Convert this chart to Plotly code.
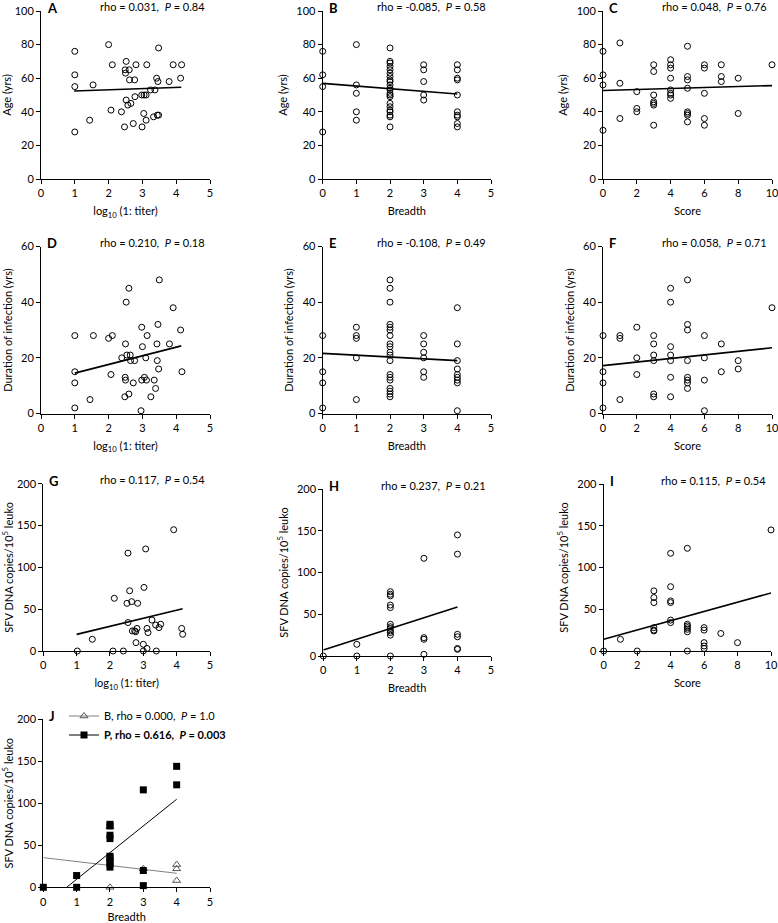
import plotly.graph_objects as go

W, H = 778, 923

# ---------------- data ----------------
A_titer = [1.0, 1.0, 1.0, 1.0, 1.44, 1.54, 2.0, 2.11, 2.07, 2.38, 2.47, 2.52, 2.49, 2.50, 2.61, 2.52, 2.57,
           2.66, 2.62, 2.77, 2.73, 2.78, 2.81, 2.99, 2.98, 3.05, 3.04, 3.11, 3.13, 3.11, 3.24, 3.33, 3.37,
           3.42, 3.44, 3.46, 3.48, 3.48, 3.79, 3.91, 4.13, 4.16]
A_age = [76, 62, 55, 28, 35, 56, 80, 68, 41, 40, 31, 70, 65, 63, 65, 47, 44,
         45, 59, 59, 33, 49, 68, 31, 50, 50, 39, 35, 68, 50, 53, 37, 53,
         60, 38, 58, 38, 78, 58, 68, 60, 68]

B_breadth = [0, 0, 0, 0,
             1, 1, 1, 1, 1,
             2, 2, 2, 2, 2, 2, 2, 2, 2, 2, 2, 2, 2, 2, 2, 2, 2, 2, 2, 2, 2, 2,
             3, 3, 3, 3, 3,
             4, 4, 4, 4, 4, 4, 4, 4, 4, 4]
B_age = [76, 62, 55, 28,
         80, 56, 51, 40, 35,
         78, 70, 69, 67, 65, 63, 61, 59, 58, 56, 54, 53, 51, 50, 49, 45, 43, 41, 40, 38, 37, 31,
         68, 65, 58, 50, 47,
         68, 65, 60, 59, 50, 40, 38, 37, 33, 31]

C_score = [0, 0, 0, 0, 1, 1, 1, 2, 2, 2, 3, 3, 3, 3, 3, 3, 3,
           4, 4, 4, 4, 4, 4, 4, 4, 5, 5, 5, 5, 5, 5, 5, 5,
           6, 6, 6, 6, 6, 7, 7, 7, 8, 8, 10]
C_age = [76, 62, 56, 29, 81, 57, 36, 52, 42, 40, 68, 64, 50, 46, 45, 44, 32,
         71, 68, 66, 60, 53, 51, 50, 48, 79, 61, 59, 54, 40, 39, 38, 34,
         68, 66, 51, 36, 32, 68, 61, 58, 60, 39, 68]

D_titer = [1.0, 1.0, 1.0, 1.0, 1.45, 1.55, 2.0, 2.11, 2.07, 2.39, 2.48, 2.5, 2.52, 2.49, 2.5, 2.6, 2.54,
           2.6, 2.64, 2.65, 2.73, 2.77, 2.98, 3.0, 2.98, 2.96, 3.06, 3.1, 3.12, 3.14, 3.25, 3.35, 3.39,
           3.43, 3.44, 3.46, 3.48, 3.5, 3.8, 3.91, 4.13, 4.17]
D_dur = [28, 15, 11, 2, 5, 28, 27, 28, 14, 20, 6, 25, 40, 13, 12, 45, 21,
         7, 21, 19, 11, 19, 31, 24, 12, 1, 13, 20, 12, 28, 6, 12, 9,
         25, 19, 32, 16, 48, 25, 38, 30, 15]

E_breadth = [0, 0, 0, 0,
             1, 1, 1, 1, 1,
             2, 2, 2, 2, 2, 2, 2, 2, 2, 2, 2, 2, 2, 2, 2, 2, 2, 2, 2,
             3, 3, 3, 3, 3, 3,
             4, 4, 4, 4, 4, 4, 4, 4, 4]
E_dur = [28, 15, 11, 2,
         31, 28, 27, 20, 5,
         48, 45, 40, 32, 31, 30, 28, 25, 24, 22, 21, 19, 14, 13, 12, 9, 8, 7, 6,
         28, 25, 22, 20, 15, 13,
         38, 25, 19, 16, 14, 13, 12, 11, 1]

F_score = [0, 0, 0, 0, 1, 1, 1, 2, 2, 2, 3, 3, 3, 3, 3, 3,
           4, 4, 4, 4, 4, 4, 4, 5, 5, 5, 5, 5, 5, 5, 5,
           6, 6, 6, 6, 7, 7, 8, 8, 10]
F_dur = [28, 15, 11, 2, 28, 27, 5, 31, 20, 14, 28, 25, 21, 19, 7, 6,
         45, 40, 24, 21, 19, 13, 6, 48, 32, 30, 19, 13, 12, 11, 9,
         28, 20, 12, 1, 25, 15, 19, 16, 38]

G_titer = [1.02, 1.47, 2.09, 2.13, 2.4, 2.51, 2.54, 2.54, 2.59, 2.65, 2.67, 2.74, 2.81, 2.77, 2.78, 2.83,
           3.0, 3.0, 3.02, 3.07, 3.11, 3.14, 3.11, 3.26, 3.37, 3.39, 3.47, 3.52, 3.91, 4.15, 4.18]
G_sfv = [0, 14, 0, 63, 0, 57, 117, 34, 72, 59, 24, 24, 27, 23, 10, 57,
         8, 0, 76, 122, 27, 22, 3, 37, 31, 0, 28, 32, 145, 27, 20]

H_breadth = [0, 1, 1, 2, 2, 2, 2, 2, 2, 2, 2, 2, 2, 2, 2, 3, 3, 3, 3, 4, 4, 4, 4, 4, 4]
H_sfv = [0, 14, 0, 77, 74, 72, 61, 58, 38, 35, 33, 30, 28, 25, 0, 117, 22, 20, 2, 145, 122, 26, 23, 9, 8]

I_score = [0, 1, 2, 3, 3, 3, 3, 3, 3, 4, 4, 4, 4, 4, 4, 5, 5, 5, 5, 5, 5, 5, 6, 6, 6, 6, 6, 7, 8, 10]
I_sfv = [0, 14, 0, 72, 64, 58, 28, 25, 24, 117, 77, 60, 58, 37, 34, 123, 32, 30, 28, 26, 23, 0,
         28, 25, 10, 6, 3, 21, 10, 145]

J_B_breadth = [2, 2, 3, 4, 4, 4]
J_B_sfv = [0, 72, 22, 27, 22, 8]
J_P_breadth = [0, 1, 1, 2, 2, 2, 2, 2, 2, 2, 2, 2, 3, 3, 3, 4, 4]
J_P_sfv = [0, 14, 0, 75, 73, 62, 58, 37, 35, 31, 28, 24, 116, 20, 2, 144, 122]

# regression lines (endpoints)
fit_A = ([0.98, 4.15], [52.4, 54.6])
fit_B = ([0, 4], [56.9, 50.6])
fit_C = ([0, 10], [52.7, 55.6])
fit_D = ([1.0, 4.15], [14.5, 24.3])
fit_E = ([0, 4], [21.6, 19.0])
fit_F = ([0, 10], [17.2, 23.6])
fit_G = ([1.0, 4.18], [19.9, 50.6])
fit_H = ([0, 4], [7.2, 58.8])
fit_I = ([0, 10], [14.0, 69.5])
fit_J_B = ([0, 4], [35.3, 16.7])
fit_J_P = ([0.7, 4], [0, 104.8])

stats = {
    "A": "rho = 0.031,  <i>P</i> = 0.84",
    "B": "rho = -0.085,  <i>P</i> = 0.58",
    "C": "rho = 0.048,  <i>P</i> = 0.76",
    "D": "rho = 0.210,  <i>P</i> = 0.18",
    "E": "rho = -0.108,  <i>P</i> = 0.49",
    "F": "rho = 0.058,  <i>P</i> = 0.71",
    "G": "rho = 0.117,  <i>P</i> = 0.54",
    "H": "rho = 0.237,  <i>P</i> = 0.21",
    "I": "rho = 0.115,  <i>P</i> = 0.54",
}
legend_B = "B, rho = 0.000,  <i>P</i> = 1.0"
legend_P = "<b>P, rho = 0.616,  <i>P</i> = 0.003</b>"

x_titer = "log<sub>10</sub> (1: titer)"
x_breadth = "Breadth"
x_score = "Score"
y_age = "Age (yrs)"
y_dur = "Duration of infection (yrs)"
y_sfv = "SFV DNA copies/10<sup>5</sup> leuko"

# ---------------- layout helpers ----------------
FONT = "Lato, 'Open Sans', sans-serif"

def dxp(a, b):
    return [a / W, min(1.0, b / W)]

def dyp(top, bottom):
    return [1 - bottom / H, 1 - top / H]

# panel: key, x, y, fit, xmax, xdtick, ymax, ydtick, xtitle, ytitle, (x0px, x1px, ytop, ybottom)
panels = [
    ("A", A_titer, A_age, fit_A, 5, 1, 100, 20, x_titer, y_age, (41, 210, 11, 179)),
    ("B", B_breadth, B_age, fit_B, 5, 1, 100, 20, x_breadth, y_age, (322.7, 491, 11, 179)),
    ("C", C_score, C_age, fit_C, 10, 2, 100, 20, x_score, y_age, (603, 772, 11, 179)),
    ("D", D_titer, D_dur, fit_D, 5, 1, 60, 20, x_titer, y_dur, (41, 210, 246.5, 413.5)),
    ("E", E_breadth, E_dur, fit_E, 5, 1, 60, 20, x_breadth, y_dur, (322.7, 491, 246.5, 413.5)),
    ("F", F_score, F_dur, fit_F, 10, 2, 60, 20, x_score, y_dur, (603, 772, 246.5, 413.5)),
    ("G", G_titer, G_sfv, fit_G, 5, 1, 200, 50, x_titer, y_sfv, (43.3, 210, 483.7, 651)),
    ("H", H_breadth, H_sfv, fit_H, 5, 1, 200, 50, x_breadth, y_sfv, (323.3, 491, 489, 656)),
    ("I", I_score, I_sfv, fit_I, 10, 2, 200, 50, x_score, y_sfv, (603.7, 771, 484, 651)),
    ("J", None, None, None, 5, 1, 200, 50, x_breadth, y_sfv, (43.3, 210, 719.3, 887.3)),
]

fig = go.Figure()
layout = dict(
    width=W, height=H, margin=dict(l=0, r=0, t=0, b=0, autoexpand=False),
    paper_bgcolor="white", plot_bgcolor="white",
    font=dict(family=FONT, size=11, color="black"),
    showlegend=True,
    annotations=[],
)

def axis_common():
    return dict(showgrid=False, zeroline=False, showline=True, linecolor="black", linewidth=1,
                ticks="outside", ticklen=4, tickwidth=1, tickcolor="black", automargin=False,
                ticklabeloverflow="allow",
                tickfont=dict(family=FONT, size=11, color="black"), fixedrange=True)

for i, (key, xs, ys, fit, xmax, xdt, ymax, ydt, xt, yt, box) in enumerate(panels):
    n = "" if i == 0 else str(i + 1)
    xa, ya = "x" + n, "y" + n
    x0, x1, yt0, yb0 = box
    layout["xaxis" + n] = dict(axis_common(), domain=dxp(x0, x1), anchor=ya, range=[0, xmax],
                               tick0=0, dtick=xdt,
                               title=dict(text=xt, font=dict(family=FONT, size=11), standoff=9))
    layout["yaxis" + n] = dict(axis_common(), domain=dyp(yt0, yb0), anchor=xa, range=[0, ymax],
                               tick0=0, dtick=ydt,
                               title=dict(text=yt, font=dict(family=FONT, size=11), standoff=6))
    # panel letter
    layout["annotations"].append(dict(
        text="<b>" + key + "</b>", xref=xa + " domain", yref=ya + " domain", x=0, y=1,
        xanchor="left", yanchor="middle", xshift=4, yshift=3, showarrow=False,
        font=dict(family=FONT, size=13, color="black")))
    if key in stats:
        layout["annotations"].append(dict(
            text=stats[key], xref=xa + " domain", yref=ya + " domain", x=1, y=1,
            xanchor="right", yanchor="middle", xshift=-3, yshift=4, showarrow=False,
            font=dict(family=FONT, size=11, color="black")))
        fig.add_trace(go.Scatter(x=xs, y=ys, mode="markers", xaxis=xa, yaxis=ya,
                                 marker=dict(symbol="circle-open", size=6, color="black",
                                             line=dict(width=1, color="black")),
                                 cliponaxis=False, showlegend=False, hoverinfo="skip"))
        fig.add_trace(go.Scatter(x=fit[0], y=fit[1], mode="lines", xaxis=xa, yaxis=ya,
                                 line=dict(color="black", width=1.6),
                                 cliponaxis=False, showlegend=False, hoverinfo="skip"))
    else:
        # panel J
        fig.add_trace(go.Scatter(x=fit_J_B[0], y=fit_J_B[1], mode="lines", xaxis=xa, yaxis=ya,
                                 line=dict(color="#808080", width=1), showlegend=False,
                                 cliponaxis=False, hoverinfo="skip"))
        fig.add_trace(go.Scatter(x=fit_J_P[0], y=fit_J_P[1], mode="lines", xaxis=xa, yaxis=ya,
                                 line=dict(color="black", width=1), showlegend=False,
                                 cliponaxis=False, hoverinfo="skip"))
        fig.add_trace(go.Scatter(x=J_B_breadth, y=J_B_sfv, mode="markers", xaxis=xa, yaxis=ya,
                                 marker=dict(symbol="triangle-up-open", size=7, color="#555555",
                                             line=dict(width=1, color="#555555")),
                                 showlegend=False, cliponaxis=False, hoverinfo="skip"))
        fig.add_trace(go.Scatter(x=J_P_breadth, y=J_P_sfv, mode="markers", xaxis=xa, yaxis=ya,
                                 marker=dict(symbol="square", size=7, color="black"),
                                 showlegend=False, cliponaxis=False, hoverinfo="skip"))
        # legend entries
        fig.add_trace(go.Scatter(x=[None], y=[None], mode="lines+markers", xaxis=xa, yaxis=ya,
                                 name=legend_B, legend="legend",
                                 line=dict(color="#808080", width=1),
                                 marker=dict(symbol="triangle-up-open", size=7, color="#555555",
                                             line=dict(width=1, color="#555555"))))
        fig.add_trace(go.Scatter(x=[None], y=[None], mode="lines+markers", xaxis=xa, yaxis=ya,
                                 name=legend_P, legend="legend2",
                                 line=dict(color="black", width=1),
                                 marker=dict(symbol="square", size=7, color="black")))

def legend_at(ycenter_px):
    return dict(x=64 / W, y=1 - ycenter_px / H, xanchor="left", yanchor="middle",
                bgcolor="rgba(0,0,0,0)", font=dict(family=FONT, size=11, color="black"),
                itemwidth=30, tracegroupgap=0, itemclick=False, itemdoubleclick=False)

layout["legend"] = legend_at(716)
layout["legend2"] = legend_at(735)

fig.update_layout(**layout)
fig.write_html("out.html",
               config={"displayModeBar": False, "staticPlot": True},
               post_script="document.body.style.margin='0';document.body.style.overflow='hidden';")
